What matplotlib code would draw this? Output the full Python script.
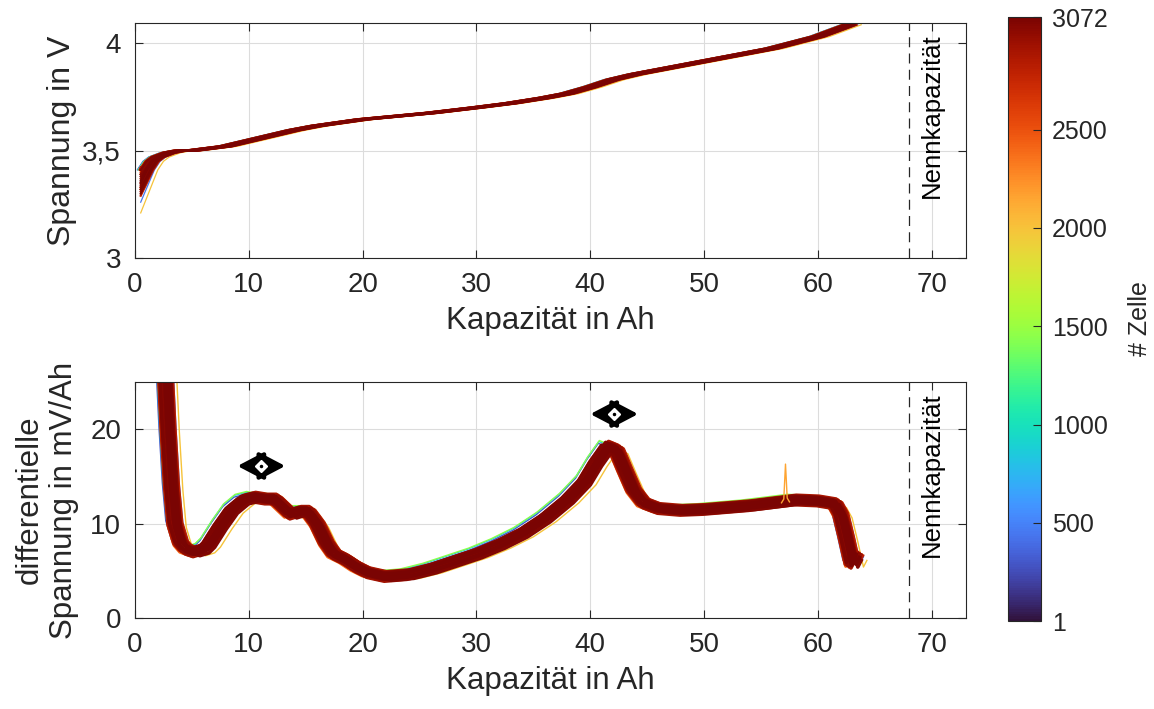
import numpy as np
import matplotlib
matplotlib.use('Agg')
import matplotlib.pyplot as plt
from matplotlib import colors, cm

plt.rcParams['font.family'] = ['Liberation Sans', 'DejaVu Sans']

# voltage curve (reference cell), Q in Ah, U in V
volt_q = [0.5, 1.0, 1.5, 2.0, 3.0, 4.0, 5.0, 6.5, 8.0, 10.0, 12.0, 14.0, 16.0, 18.0, 20.0,
          23.0, 26.0, 30.0, 33.0, 36.0, 38.0, 40.0, 42.0, 44.0, 47.0, 50.0, 53.0, 56.0, 60.0, 62.8]
volt_v = [3.36, 3.41, 3.45, 3.47, 3.49, 3.50, 3.50, 3.51, 3.52, 3.545, 3.57, 3.595, 3.615, 3.63, 3.645,
          3.66, 3.675, 3.70, 3.72, 3.745, 3.765, 3.795, 3.83, 3.855, 3.885, 3.915, 3.945, 3.975, 4.03, 4.085]

# differential voltage of the reference cell, mV/Ah
dvdq_q = [1.8, 2.3, 2.7, 2.9, 3.2, 3.5, 4.0, 4.5, 5.2, 6.0, 6.5, 7.5, 8.5, 9.5, 10.5, 11.5, 12.3,
          13.0, 13.7, 14.5, 15.2, 16.0, 16.8, 17.5, 18.5, 19.5, 20.5, 22.0, 24.0, 26.0, 28.0, 30.0,
          32.0, 34.0, 36.0, 38.0, 39.5, 40.5, 41.5, 42.3, 43.0, 43.8, 44.7, 46.0, 48.0, 50.0, 52.0,
          54.0, 56.0, 58.0, 60.0, 61.5, 62.0, 62.5, 63.0, 63.3]
dvdq_v = [60.0, 35.0, 25.0, 20.0, 14.0, 10.0, 8.0, 7.3, 7.0, 7.3, 7.9, 9.8, 11.5, 12.5, 12.8, 12.6, 12.6,
          11.8, 11.0, 11.3, 11.3, 10.0, 8.0, 6.8, 6.2, 5.4, 4.8, 4.4, 4.6, 5.2, 6.0, 6.8,
          7.8, 9.0, 10.6, 12.6, 14.5, 16.5, 18.2, 17.8, 15.8, 13.6, 12.2, 11.6, 11.4, 11.5, 11.7,
          11.9, 12.2, 12.5, 12.4, 12.1, 11.0, 8.5, 5.8, 6.5]

# individual cells: number, capacity offset, start voltage, dV/dQ offset
cell_id = [40, 300, 450, 820, 1150, 1450, 1750, 2000, 2150, 2300, 2420, 2530, 2620, 2700, 2760,
           2810, 2850, 2890, 2920, 2950, 2975, 2995, 3012, 3026, 3038, 3048, 3056, 3063, 3068, 3072]
cell_dq = [0.1, -0.8, 0.7, -0.75, -0.1, -0.7, -0.3, 1.0, 0.0, 0.55, -0.55, 0.4, -0.4, 0.25, -0.25,
           0.6, -0.6, 0.1, -0.1, 0.45, -0.45, 0.3, -0.3, 0.15, -0.15, 0.5, -0.5, 0.35, 0.05, -0.05]
cell_v0 = [3.35, 3.42, 3.26, 3.42, 3.37, 3.41, 3.39, 3.21, 3.36, 3.30, 3.42, 3.32, 3.40, 3.33, 3.39,
           3.29, 3.42, 3.35, 3.37, 3.31, 3.41, 3.33, 3.39, 3.34, 3.38, 3.30, 3.41, 3.32, 3.35, 3.36]
cell_dv = [0.3, 0.3, 0.0, 0.5, -0.3, 0.6, 0.1, -0.4, 0.0, 0.3, -0.3, 0.2, -0.2, 0.4, -0.4,
           0.1, -0.1, 0.5, -0.5, 0.2, -0.2, 0.3, -0.3, 0.0, 0.4, -0.4, 0.1, -0.1, 0.25, -0.25]

# measurement spike of one cell
spike_q = [56.8, 57.0, 57.15, 57.3, 57.5]
spike_v = [12.2, 12.6, 16.3, 12.7, 12.3]

nenn_q = 68
peak_q = [11.1, 42.1]
peak_v = [16.1, 21.6]
peak_w = 2.1

txt = '#262626'
norm = colors.Normalize(1, 3072)
cmap = plt.get_cmap('turbo')

fig = plt.figure(figsize=(11.54, 7.09), dpi=100)
ax1 = fig.add_axes([0.117, 0.636, 0.720, 0.3315])
ax2 = fig.add_axes([0.117, 0.1283, 0.720, 0.333])
cax = fig.add_axes([0.8735, 0.124, 0.0287, 0.852])

for cid, dq, v0, dv in zip(cell_id, cell_dq, cell_v0, cell_dv):
    c = cmap(norm(cid))
    big = cid > 2400
    ax1.plot([0.5] + list(np.array(volt_q[1:]) + dq), [v0] + volt_v[1:], color=c,
             lw=1.6 if big else 0.9)
    ax2.plot(np.array(dvdq_q) + dq, np.array(dvdq_v) + dv, color=c, lw=2.6 if big else 1.0)
ax2.plot(spike_q, spike_v, color=cmap(norm(2150)), lw=1.0)

for ax in (ax1, ax2):
    ax.axvline(nenn_q, color=txt, lw=0.9, ls=(0, (8, 5)))
    ax.text(70, 0.955, 'Nennkapazität', rotation=90, ha='center', va='top',
            fontsize=18.5, color='black', transform=ax.get_xaxis_transform())
    ax.set_xlim(0, 73)
    ax.set_xticks(range(0, 80, 10))
    ax.grid(True, color='#dcdcdc', lw=0.8)
    ax.set_axisbelow(True)
    ax.tick_params(direction='in', top=True, right=True, length=6, width=0.8,
                   labelsize=20, colors=txt, pad=10)
    for s in ax.spines.values():
        s.set_color(txt)
        s.set_linewidth(0.8)
    ax.set_xlabel('Kapazität in Ah', fontsize=22.5, color=txt, labelpad=6)

ax1.set_ylim(3, 4.093)
ax1.set_yticks([3, 3.5, 4])
ax1.set_yticklabels(['3', '3,5', '4'])
ax1.set_ylabel('Spannung in V', fontsize=23, color=txt, labelpad=4)

ax2.set_ylim(0, 25)
ax2.set_yticks([0, 10, 20])
ax2.set_ylabel('differentielle\nSpannung in mV/Ah', fontsize=22.5, color=txt, labelpad=8)

for q, v in zip(peak_q, peak_v):
    ax2.annotate('', xy=(q + peak_w, v), xytext=(q - peak_w, v),
                 arrowprops=dict(arrowstyle='<|-|>,head_length=0.8,head_width=0.42',
                                 color='black', lw=3, mutation_scale=20, shrinkA=0, shrinkB=0))
    ax2.plot(q, v, marker='D', ms=6, mfc='white', mec='white', zorder=5)
    ax2.plot(q, v, marker='.', ms=3, color='black', zorder=6)

sm = cm.ScalarMappable(norm=norm, cmap=cmap)
cb = fig.colorbar(sm, cax=cax, ticks=[1, 500, 1000, 1500, 2000, 2500, 3072])
cb.ax.tick_params(direction='in', length=6, width=0.8, labelsize=18, colors=txt, pad=8)
cb.outline.set_edgecolor(txt)
cb.outline.set_linewidth(0.8)
cb.set_label('# Zelle', fontsize=18, color=txt, labelpad=14)

fig.savefig('out.png', dpi=100)
